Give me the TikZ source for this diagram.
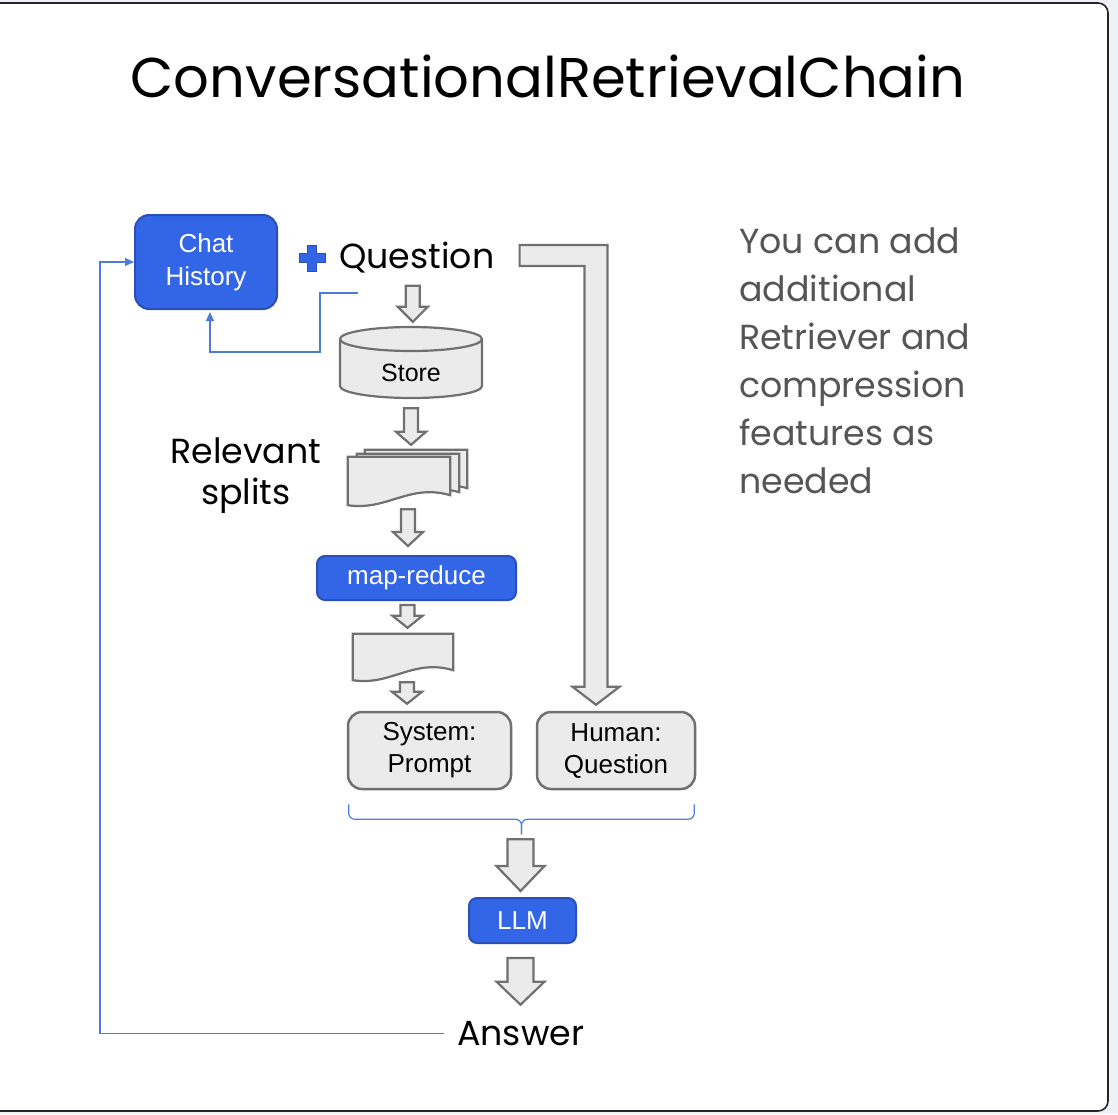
\documentclass[tikz,border=0pt]{standalone}
\usepackage{fontspec}
\setmainfont{Liberation Sans}
\newfontfamily\popfont{Poppins}
\usepackage{tikz}
\usetikzlibrary{calc,arrows.meta}
\definecolor{CardBg}{HTML}{EEF2F8}
\definecolor{BlueFill}{HTML}{3366E6}
\definecolor{BlueEdge}{HTML}{2A4FB8}
\definecolor{GreyFill}{HTML}{EBEBEB}
\definecolor{GreyEdge}{HTML}{707070}
\definecolor{LinkBlue}{HTML}{4F7BD6}
\definecolor{NoteGrey}{HTML}{555555}
\tikzset{
  bluebox/.style={
    draw=BlueEdge,fill=BlueFill,line width=2,rounded corners=8,
    font=\fontsize{26}{33}\selectfont,text=white,
    align=center,inner sep=0
  },
  greybox/.style={
    draw=GreyEdge,fill=GreyFill,line width=2.5,rounded corners=14,
    font=\fontsize{26}{32}\selectfont,text=black,
    align=center,inner sep=0
  },
  hollow/.style={draw=GreyEdge,fill=GreyFill,line width=2.2,line join=miter},
  docnode/.style={minimum width=102,minimum height=48,inner sep=0},
  poptext/.style={font=\popfont\fontsize{34.8}{41}\selectfont,inner sep=0},
  linkline/.style={draw=LinkBlue,line width=1.2},
  linktip/.style={-{Triangle[length=9pt,width=8pt]}},
}
\newcommand{\flowarrow}[5]{%
  \draw[hollow] let \p1=#1, \p2=#2 in
    ({\x1-#3},\y1) -- ({\x1-#3},{\y2+#5}) -- ({\x1-#4},{\y2+#5}) -- (\x1,\y2)
    -- ({\x1+#4},{\y2+#5}) -- ({\x1+#3},{\y2+#5}) -- ({\x1+#3},\y1) -- cycle;}
\newcommand{\docpath}[1]{%
  \draw[hollow] (#1.north west) -- (#1.north east) -- ($(#1.south east)+(0,-10)$)
    .. controls ($(#1.south)+(10,-22)$) and ($(#1.south)+(-12,6)$) .. (#1.south west) -- cycle;}

\begin{document}
\begin{tikzpicture}[x=1pt,y=-1pt]
  \useasboundingbox (0,0) rectangle (1118,1114);
  \clip (0,0) rectangle (1118,1114);
  \fill[CardBg] (0,0) rectangle (1118,1114);
  \draw[fill=white,draw=black!85,line width=1.6,rounded corners=10] (-20,3) rectangle (1108,1111);

  \node[font=\popfont\fontsize{56}{60}\selectfont,inner sep=0] (title) at (548,76) {ConversationalRetrievalChain};

  \node[bluebox,rounded corners=14,minimum width=142,minimum height=94] (chat) at (206,262) {Chat\\History};
  \draw[fill=BlueFill,draw=BlueEdge,line width=1] (312,258) ++(-4.5,-13) -- ++(9,0) -- ++(0,8.5) -- ++(8.5,0)
    -- ++(0,9) -- ++(-8.5,0) -- ++(0,8.5) -- ++(-9,0) -- ++(0,-8.5) -- ++(-8.5,0) -- ++(0,-9) -- ++(8.5,0) -- cycle;
  \node[poptext,anchor=base west] (question) at (339,268) {Question};

  \node[minimum width=142,minimum height=72,inner sep=0] (store) at (411,363) {};
  \draw[hollow] (340,339) -- (340,386) arc[start angle=180,end angle=0,x radius=71,y radius=12]
    -- (482,339) arc[start angle=0,end angle=-180,x radius=71,y radius=12] -- cycle;
  \draw[hollow,fill=none] (340,339) arc[start angle=180,end angle=0,x radius=71,y radius=12];
  \node[font=\fontsize{25}{30}\selectfont,inner sep=0] (storelabel) at (411,373) {Store};

  \node[docnode] (splitsb) at (416,474) {};
  \node[docnode] (splitsm) at (408,478) {};
  \node[docnode] (splits) at (399,481) {};
  \docpath{splitsb}
  \docpath{splitsm}
  \docpath{splits}
  \node[poptext,align=center] (relevant) at (246,476) {Relevant\\splits};

  \node[bluebox,minimum width=199,minimum height=44] (mapred) at (416.5,578) {map-reduce};
  \node[docnode,minimum width=100,minimum height=46] (merged) at (403,657) {};
  \docpath{merged}

  \node[greybox,minimum width=163,minimum height=77] (sys) at (429.5,750.5) {System:\\Prompt};
  \node[greybox,minimum width=158,minimum height=77] (hum) at (616,750.5) {Human:\\Question};

  \node[bluebox,minimum width=107,minimum height=45] (llm) at (522.5,920.5) {LLM};
  \node[poptext,anchor=base west] (answer) at (457,1045) {Answer};

  \node[poptext,text=NoteGrey,align=left,anchor=north west,font=\popfont\fontsize{34.8}{48}\selectfont] (note) at (739,228)
    {You can add\\additional\\Retriever and\\compression\\features as\\needed};

  \flowarrow{([xshift=-4pt,yshift=-13pt]question.south)}{([yshift=5pt]store.north)}{7}{15}{15}
  \flowarrow{([yshift=-9pt]store.south)}{([yshift=5pt]splitsb.north)}{7}{15}{13}
  \flowarrow{([xshift=9pt,yshift=-4pt]splits.south)}{([yshift=9pt]mapred.north)}{7}{15}{14}
  \flowarrow{([xshift=-9pt,yshift=-4pt]mapred.south)}{([yshift=6pt]merged.north)}{7}{15}{12}
  \flowarrow{([xshift=4pt,yshift=-2pt]merged.south)}{([yshift=7pt]sys.north)}{7}{15}{12}

  \draw[hollow] let \p1=([xshift=25pt]question.east), \p2=([xshift=-20pt,yshift=6pt]hum.north) in
    (\x1,{\y1+12}) -- ({\x2+11.5},{\y1+12}) -- ({\x2+11.5},{\y2+18}) -- ({\x2+23.5},{\y2+18}) -- (\x2,\y2)
    -- ({\x2-23.5},{\y2+18}) -- ({\x2-11.5},{\y2+18}) -- ({\x2-11.5},{\y1-9}) -- (\x1,{\y1-9}) -- cycle;

  \coordinate (bl) at ($(sys.south west)+(2,14)$);
  \coordinate (br) at ($(hum.south east)+(-2,14)$);
  \coordinate (bm) at ($(bl)!0.5!(br)+(0,15)$);
  \coordinate (bt) at ($(bl)!0.5!(br)+(0,30)$);
  \draw[linkline,rounded corners=6] (bl) |- (bm) -- (bt);
  \draw[linkline,rounded corners=6] (br) |- (bm) -- (bt);

  \flowarrow{([xshift=-1pt,yshift=-5pt]bt)}{([yshift=6pt]llm.north)}{13}{24}{25}
  \flowarrow{([xshift=-2pt,yshift=-14pt]llm.south)}{([yshift=16pt]answer.north)}{13}{24}{23}

  \coordinate (qtap) at (358,293);
  \draw[linkline,linktip] (qtap) -- ++(-38,0) -- ++(0,59) -| ($(chat.south)+(4,2)$);
  \draw[linkline,linktip] ([xshift=-13pt]answer.west) -| ($(chat.west)+(-34,0)$) -- (chat.west);
\end{tikzpicture}
\end{document}
